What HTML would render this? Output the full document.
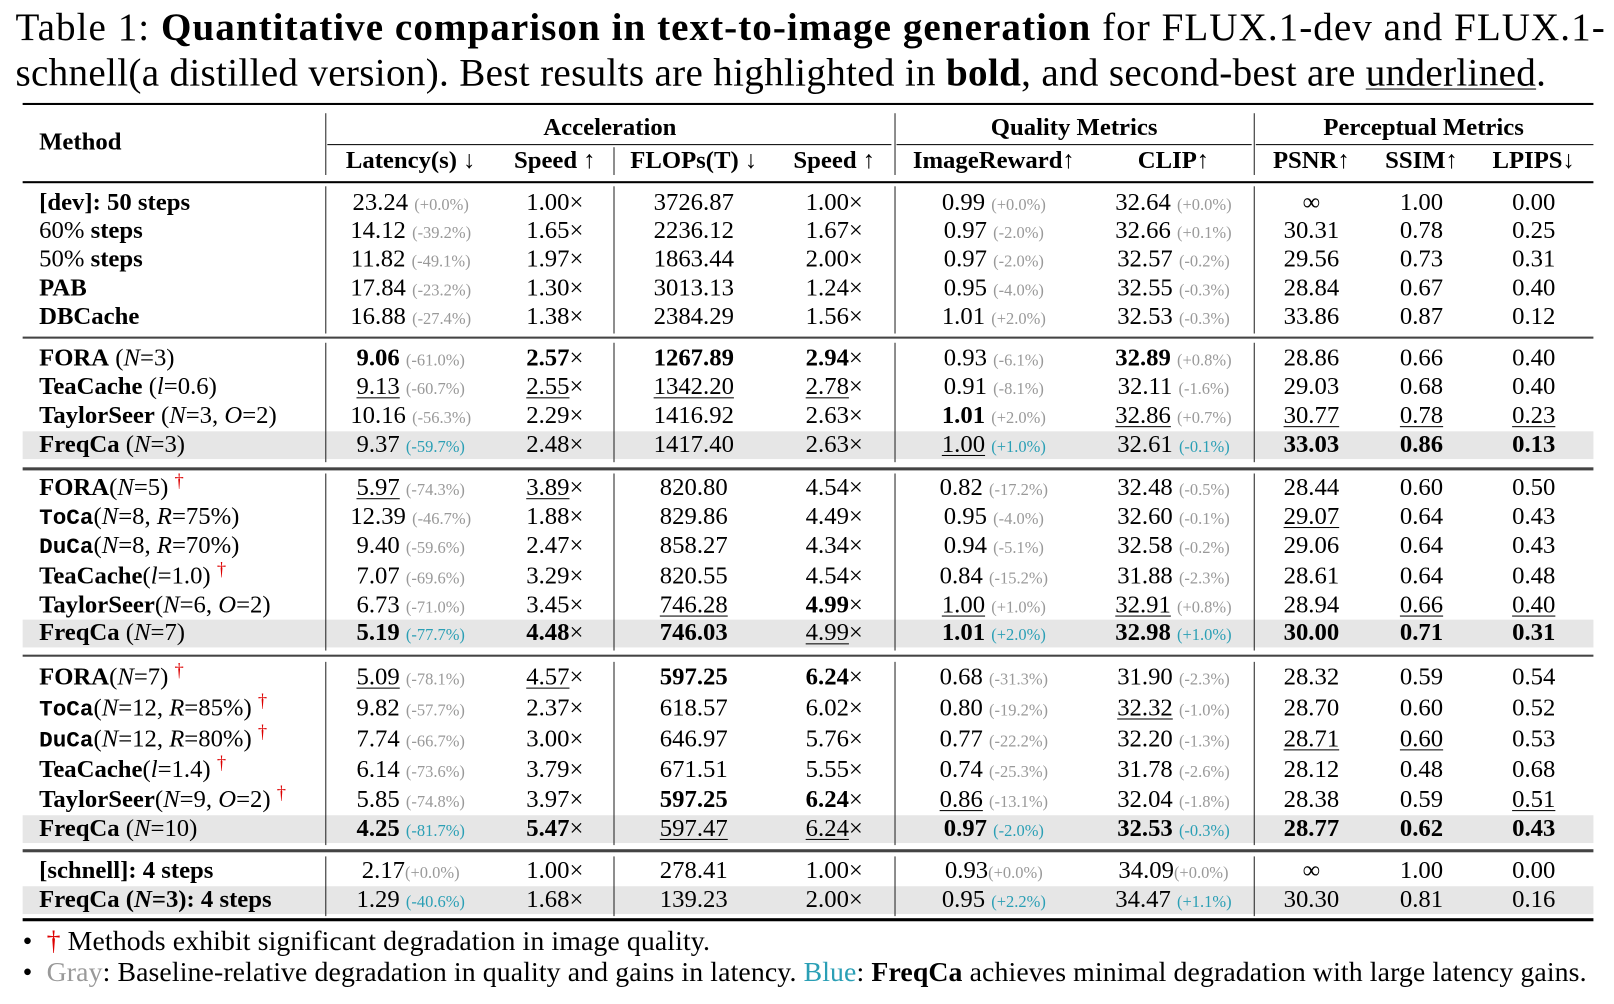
<!DOCTYPE html>
<html><head><meta charset="utf-8"><style>
html,body{margin:0;padding:0;background:#fff;width:1614px;height:1004px;overflow:hidden}
#w{position:absolute;left:0;top:0;width:1568px;height:975px;transform:scale(1.02934);transform-origin:0 0;font-family:"Liberation Serif",serif;color:#000}
.cap{position:absolute;left:15px;font-size:38px;white-space:nowrap;line-height:42px}
.hl{position:absolute;background:#000}
.vl{position:absolute;width:1.3px;background:#222}
.band{position:absolute;left:22px;width:1526px;height:27px;background:#e6e6e6}
.r{position:absolute;left:22px;height:28px;line-height:28px;font-size:24px;white-space:nowrap;display:flex}
.r>span{display:inline-block;text-align:center}
.r>span:first-child{text-align:left;padding-left:16px;box-sizing:border-box}
.c0{width:294px}.c1{width:166px}.c2{width:114px}.c3{width:156px}.c4{width:117px}.c5{width:193px}.c6{width:156px}.c7{width:112px}.c8{width:102px}.c9{width:116px}
.g{font-size:16px;color:#999}
.u{font-size:16px;color:#2a9fb5}
u{text-decoration-thickness:1px;text-underline-offset:3px}
.d{color:#d00;font-size:18px;position:relative;top:-8px}
.tt{font-family:"Liberation Mono",monospace;font-weight:bold;font-size:22px}
.h{position:absolute;font-weight:bold;font-size:24px;white-space:nowrap;text-align:center;line-height:28px}
.ft{position:absolute;left:22px;font-size:27px;white-space:nowrap;line-height:30px;letter-spacing:0.1px}
</style></head><body><div id="w">
<div class="cap" style="top:6px;letter-spacing:1px">Table 1: <b>Quantitative comparison in text-to-image generation</b> for FLUX.1-dev and FLUX.1-</div>
<div class="cap" style="top:50px;letter-spacing:0.3px">schnell(a distilled version). Best results are highlighted in <b>bold</b>, and second-best are <u>underlined</u>.</div>

<div class="hl" style="left:22px;top:100px;width:1526px;height:2px"></div>
<div class="hl" style="left:22px;top:176px;width:1526px;height:1.5px"></div>
<div class="hl" style="left:22px;top:327px;width:1526px;height:2px;background:#444"></div>
<div class="hl" style="left:22px;top:454px;width:1526px;height:2.5px;background:#444"></div>
<div class="hl" style="left:22px;top:636px;width:1526px;height:2px;background:#444"></div>
<div class="hl" style="left:22px;top:825px;width:1526px;height:2.5px;background:#444"></div>
<div class="hl" style="left:22px;top:892px;width:1526px;height:3px"></div>
<div class="hl" style="left:318px;top:140px;width:548px;height:1px"></div>
<div class="hl" style="left:871px;top:140px;width:345px;height:1px"></div>
<div class="hl" style="left:1220px;top:140px;width:328px;height:1px"></div>

<div class="band" style="top:419px"></div>
<div class="band" style="top:602px"></div>
<div class="band" style="top:792px"></div>
<div class="band" style="top:861px"></div>

<div class="vl" style="left:316px;top:110px;height:60px"></div>
<div class="vl" style="left:869px;top:110px;height:60px"></div>
<div class="vl" style="left:1218px;top:110px;height:60px"></div>
<div class="vl" style="left:596px;top:143px;height:27px"></div>
<div class="vl" style="left:316px;top:181px;height:143px"></div><div class="vl" style="left:596px;top:181px;height:143px"></div><div class="vl" style="left:869px;top:181px;height:143px"></div><div class="vl" style="left:1218px;top:181px;height:143px"></div>
<div class="vl" style="left:316px;top:333px;height:116px"></div><div class="vl" style="left:596px;top:333px;height:116px"></div><div class="vl" style="left:869px;top:333px;height:116px"></div><div class="vl" style="left:1218px;top:333px;height:116px"></div>
<div class="vl" style="left:316px;top:460px;height:172px"></div><div class="vl" style="left:596px;top:460px;height:172px"></div><div class="vl" style="left:869px;top:460px;height:172px"></div><div class="vl" style="left:1218px;top:460px;height:172px"></div>
<div class="vl" style="left:316px;top:643px;height:178px"></div><div class="vl" style="left:596px;top:643px;height:178px"></div><div class="vl" style="left:869px;top:643px;height:178px"></div><div class="vl" style="left:1218px;top:643px;height:178px"></div>
<div class="vl" style="left:316px;top:832px;height:58px"></div><div class="vl" style="left:596px;top:832px;height:58px"></div><div class="vl" style="left:869px;top:832px;height:58px"></div><div class="vl" style="left:1218px;top:832px;height:58px"></div>

<div class="h" style="left:38px;top:124px">Method</div>
<div class="h" style="left:316px;width:553px;top:110px">Acceleration</div>
<div class="h" style="left:869px;width:349px;top:110px">Quality Metrics</div>
<div class="h" style="left:1218px;width:330px;top:110px">Perceptual Metrics</div>
<div class="h" style="left:316px;width:166px;top:142px">Latency(s) ↓</div>
<div class="h" style="left:482px;width:114px;top:142px">Speed ↑</div>
<div class="h" style="left:596px;width:156px;top:142px">FLOPs(T) ↓</div>
<div class="h" style="left:752px;width:117px;top:142px">Speed ↑</div>
<div class="h" style="left:869px;width:193px;top:142px">ImageReward↑</div>
<div class="h" style="left:1062px;width:156px;top:142px">CLIP↑</div>
<div class="h" style="left:1218px;width:112px;top:142px">PSNR↑</div>
<div class="h" style="left:1330px;width:102px;top:142px">SSIM↑</div>
<div class="h" style="left:1432px;width:116px;top:142px">LPIPS↓</div>

<div class="r" style="top:183px"><span class="c0"><b>[dev]: 50 steps</b></span><span class="c1">23.24 <span class="g">(+0.0%)</span></span><span class="c2">1.00×</span><span class="c3">3726.87</span><span class="c4">1.00×</span><span class="c5">0.99 <span class="g">(+0.0%)</span></span><span class="c6">32.64 <span class="g">(+0.0%)</span></span><span class="c7">∞</span><span class="c8">1.00</span><span class="c9">0.00</span></div>
<div class="r" style="top:210px"><span class="c0">60% <b>steps</b></span><span class="c1">14.12 <span class="g">(-39.2%)</span></span><span class="c2">1.65×</span><span class="c3">2236.12</span><span class="c4">1.67×</span><span class="c5">0.97 <span class="g">(-2.0%)</span></span><span class="c6">32.66 <span class="g">(+0.1%)</span></span><span class="c7">30.31</span><span class="c8">0.78</span><span class="c9">0.25</span></div>
<div class="r" style="top:238px"><span class="c0">50% <b>steps</b></span><span class="c1">11.82 <span class="g">(-49.1%)</span></span><span class="c2">1.97×</span><span class="c3">1863.44</span><span class="c4">2.00×</span><span class="c5">0.97 <span class="g">(-2.0%)</span></span><span class="c6">32.57 <span class="g">(-0.2%)</span></span><span class="c7">29.56</span><span class="c8">0.73</span><span class="c9">0.31</span></div>
<div class="r" style="top:266px"><span class="c0"><b>PAB</b></span><span class="c1">17.84 <span class="g">(-23.2%)</span></span><span class="c2">1.30×</span><span class="c3">3013.13</span><span class="c4">1.24×</span><span class="c5">0.95 <span class="g">(-4.0%)</span></span><span class="c6">32.55 <span class="g">(-0.3%)</span></span><span class="c7">28.84</span><span class="c8">0.67</span><span class="c9">0.40</span></div>
<div class="r" style="top:294px"><span class="c0"><b>DBCache</b></span><span class="c1">16.88 <span class="g">(-27.4%)</span></span><span class="c2">1.38×</span><span class="c3">2384.29</span><span class="c4">1.56×</span><span class="c5">1.01 <span class="g">(+2.0%)</span></span><span class="c6">32.53 <span class="g">(-0.3%)</span></span><span class="c7">33.86</span><span class="c8">0.87</span><span class="c9">0.12</span></div>

<div class="r" style="top:334px"><span class="c0"><b>FORA</b> (<i>N</i>=3)</span><span class="c1"><b>9.06</b> <span class="g">(-61.0%)</span></span><span class="c2"><b>2.57</b>×</span><span class="c3"><b>1267.89</b></span><span class="c4"><b>2.94</b>×</span><span class="c5">0.93 <span class="g">(-6.1%)</span></span><span class="c6"><b>32.89</b> <span class="g">(+0.8%)</span></span><span class="c7">28.86</span><span class="c8">0.66</span><span class="c9">0.40</span></div>
<div class="r" style="top:362px"><span class="c0"><b>TeaCache</b> (<i>l</i>=0.6)</span><span class="c1"><u>9.13</u> <span class="g">(-60.7%)</span></span><span class="c2"><u>2.55</u>×</span><span class="c3"><u>1342.20</u></span><span class="c4"><u>2.78</u>×</span><span class="c5">0.91 <span class="g">(-8.1%)</span></span><span class="c6">32.11 <span class="g">(-1.6%)</span></span><span class="c7">29.03</span><span class="c8">0.68</span><span class="c9">0.40</span></div>
<div class="r" style="top:390px"><span class="c0"><b>TaylorSeer</b> (<i>N</i>=3, <i>O</i>=2)</span><span class="c1">10.16 <span class="g">(-56.3%)</span></span><span class="c2">2.29×</span><span class="c3">1416.92</span><span class="c4">2.63×</span><span class="c5"><b>1.01</b> <span class="g">(+2.0%)</span></span><span class="c6"><u>32.86</u> <span class="g">(+0.7%)</span></span><span class="c7"><u>30.77</u></span><span class="c8"><u>0.78</u></span><span class="c9"><u>0.23</u></span></div>
<div class="r" style="top:418px"><span class="c0"><b>FreqCa</b> (<i>N</i>=3)</span><span class="c1">9.37 <span class="u">(-59.7%)</span></span><span class="c2">2.48×</span><span class="c3">1417.40</span><span class="c4">2.63×</span><span class="c5"><u>1.00</u> <span class="u">(+1.0%)</span></span><span class="c6">32.61 <span class="u">(-0.1%)</span></span><span class="c7"><b>33.03</b></span><span class="c8"><b>0.86</b></span><span class="c9"><b>0.13</b></span></div>

<div class="r" style="top:460px"><span class="c0"><b>FORA</b>(<i>N</i>=5) <span class="d">†</span></span><span class="c1"><u>5.97</u> <span class="g">(-74.3%)</span></span><span class="c2"><u>3.89</u>×</span><span class="c3">820.80</span><span class="c4">4.54×</span><span class="c5">0.82 <span class="g">(-17.2%)</span></span><span class="c6">32.48 <span class="g">(-0.5%)</span></span><span class="c7">28.44</span><span class="c8">0.60</span><span class="c9">0.50</span></div>
<div class="r" style="top:488px"><span class="c0"><span class="tt">ToCa</span>(<i>N</i>=8, <i>R</i>=75%)</span><span class="c1">12.39 <span class="g">(-46.7%)</span></span><span class="c2">1.88×</span><span class="c3">829.86</span><span class="c4">4.49×</span><span class="c5">0.95 <span class="g">(-4.0%)</span></span><span class="c6">32.60 <span class="g">(-0.1%)</span></span><span class="c7"><u>29.07</u></span><span class="c8">0.64</span><span class="c9">0.43</span></div>
<div class="r" style="top:516px"><span class="c0"><span class="tt">DuCa</span>(<i>N</i>=8, <i>R</i>=70%)</span><span class="c1">9.40 <span class="g">(-59.6%)</span></span><span class="c2">2.47×</span><span class="c3">858.27</span><span class="c4">4.34×</span><span class="c5">0.94 <span class="g">(-5.1%)</span></span><span class="c6">32.58 <span class="g">(-0.2%)</span></span><span class="c7">29.06</span><span class="c8">0.64</span><span class="c9">0.43</span></div>
<div class="r" style="top:546px"><span class="c0"><b>TeaCache</b>(<i>l</i>=1.0) <span class="d">†</span></span><span class="c1">7.07 <span class="g">(-69.6%)</span></span><span class="c2">3.29×</span><span class="c3">820.55</span><span class="c4">4.54×</span><span class="c5">0.84 <span class="g">(-15.2%)</span></span><span class="c6">31.88 <span class="g">(-2.3%)</span></span><span class="c7">28.61</span><span class="c8">0.64</span><span class="c9">0.48</span></div>
<div class="r" style="top:574px"><span class="c0"><b>TaylorSeer</b>(<i>N</i>=6, <i>O</i>=2)</span><span class="c1">6.73 <span class="g">(-71.0%)</span></span><span class="c2">3.45×</span><span class="c3"><u>746.28</u></span><span class="c4"><b>4.99</b>×</span><span class="c5"><u>1.00</u> <span class="g">(+1.0%)</span></span><span class="c6"><u>32.91</u> <span class="g">(+0.8%)</span></span><span class="c7">28.94</span><span class="c8"><u>0.66</u></span><span class="c9"><u>0.40</u></span></div>
<div class="r" style="top:601px"><span class="c0"><b>FreqCa</b> (<i>N</i>=7)</span><span class="c1"><b>5.19</b> <span class="u">(-77.7%)</span></span><span class="c2"><b>4.48</b>×</span><span class="c3"><b>746.03</b></span><span class="c4"><u>4.99</u>×</span><span class="c5"><b>1.01</b> <span class="u">(+2.0%)</span></span><span class="c6"><b>32.98</b> <span class="u">(+1.0%)</span></span><span class="c7"><b>30.00</b></span><span class="c8"><b>0.71</b></span><span class="c9"><b>0.31</b></span></div>

<div class="r" style="top:644px"><span class="c0"><b>FORA</b>(<i>N</i>=7) <span class="d">†</span></span><span class="c1"><u>5.09</u> <span class="g">(-78.1%)</span></span><span class="c2"><u>4.57</u>×</span><span class="c3"><b>597.25</b></span><span class="c4"><b>6.24</b>×</span><span class="c5">0.68 <span class="g">(-31.3%)</span></span><span class="c6">31.90 <span class="g">(-2.3%)</span></span><span class="c7">28.32</span><span class="c8">0.59</span><span class="c9">0.54</span></div>
<div class="r" style="top:674px"><span class="c0"><span class="tt">ToCa</span>(<i>N</i>=12, <i>R</i>=85%) <span class="d">†</span></span><span class="c1">9.82 <span class="g">(-57.7%)</span></span><span class="c2">2.37×</span><span class="c3">618.57</span><span class="c4">6.02×</span><span class="c5">0.80 <span class="g">(-19.2%)</span></span><span class="c6"><u>32.32</u> <span class="g">(-1.0%)</span></span><span class="c7">28.70</span><span class="c8">0.60</span><span class="c9">0.52</span></div>
<div class="r" style="top:704px"><span class="c0"><span class="tt">DuCa</span>(<i>N</i>=12, <i>R</i>=80%) <span class="d">†</span></span><span class="c1">7.74 <span class="g">(-66.7%)</span></span><span class="c2">3.00×</span><span class="c3">646.97</span><span class="c4">5.76×</span><span class="c5">0.77 <span class="g">(-22.2%)</span></span><span class="c6">32.20 <span class="g">(-1.3%)</span></span><span class="c7"><u>28.71</u></span><span class="c8"><u>0.60</u></span><span class="c9">0.53</span></div>
<div class="r" style="top:734px"><span class="c0"><b>TeaCache</b>(<i>l</i>=1.4) <span class="d">†</span></span><span class="c1">6.14 <span class="g">(-73.6%)</span></span><span class="c2">3.79×</span><span class="c3">671.51</span><span class="c4">5.55×</span><span class="c5">0.74 <span class="g">(-25.3%)</span></span><span class="c6">31.78 <span class="g">(-2.6%)</span></span><span class="c7">28.12</span><span class="c8">0.48</span><span class="c9">0.68</span></div>
<div class="r" style="top:763px"><span class="c0"><b>TaylorSeer</b>(<i>N</i>=9, <i>O</i>=2) <span class="d">†</span></span><span class="c1">5.85 <span class="g">(-74.8%)</span></span><span class="c2">3.97×</span><span class="c3"><b>597.25</b></span><span class="c4"><b>6.24</b>×</span><span class="c5"><u>0.86</u> <span class="g">(-13.1%)</span></span><span class="c6">32.04 <span class="g">(-1.8%)</span></span><span class="c7">28.38</span><span class="c8">0.59</span><span class="c9"><u>0.51</u></span></div>
<div class="r" style="top:791px"><span class="c0"><b>FreqCa</b> (<i>N</i>=10)</span><span class="c1"><b>4.25</b> <span class="u">(-81.7%)</span></span><span class="c2"><b>5.47</b>×</span><span class="c3"><u>597.47</u></span><span class="c4"><u>6.24</u>×</span><span class="c5"><b>0.97</b> <span class="u">(-2.0%)</span></span><span class="c6"><b>32.53</b> <span class="u">(-0.3%)</span></span><span class="c7"><b>28.77</b></span><span class="c8"><b>0.62</b></span><span class="c9"><b>0.43</b></span></div>

<div class="r" style="top:832px"><span class="c0"><b>[schnell]: 4 steps</b></span><span class="c1">2.17<span class="g">(+0.0%)</span></span><span class="c2">1.00×</span><span class="c3">278.41</span><span class="c4">1.00×</span><span class="c5">0.93<span class="g">(+0.0%)</span></span><span class="c6">34.09<span class="g">(+0.0%)</span></span><span class="c7">∞</span><span class="c8">1.00</span><span class="c9">0.00</span></div>
<div class="r" style="top:860px"><span class="c0"><b>FreqCa (<i>N</i>=3): 4 steps</b></span><span class="c1">1.29 <span class="u">(-40.6%)</span></span><span class="c2">1.68×</span><span class="c3">139.23</span><span class="c4">2.00×</span><span class="c5">0.95 <span class="u">(+2.2%)</span></span><span class="c6">34.47 <span class="u">(+1.1%)</span></span><span class="c7">30.30</span><span class="c8">0.81</span><span class="c9">0.16</span></div>

<div class="ft" style="top:899px">•&nbsp;&nbsp;<span style="color:#d00">†</span> Methods exhibit significant degradation in image quality.</div>
<div class="ft" style="top:929px">•&nbsp;&nbsp;<span style="color:#999">Gray</span>: Baseline-relative degradation in quality and gains in latency. <span style="color:#2a9fb5">Blue</span>: <b>FreqCa</b> achieves minimal degradation with large latency gains.</div>
</div></body></html>
